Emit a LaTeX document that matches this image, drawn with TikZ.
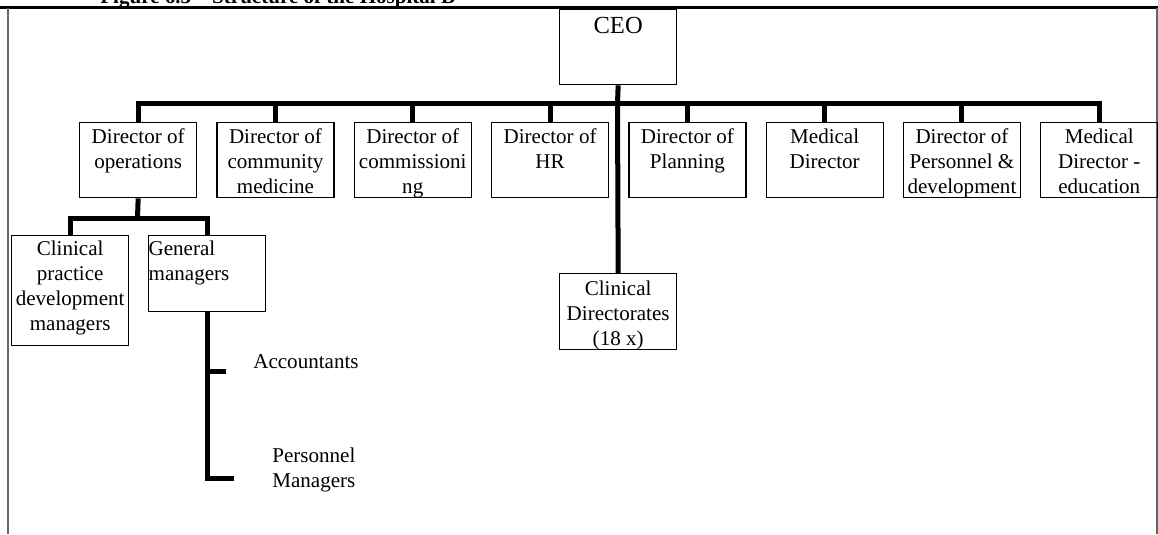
\documentclass[tikz,border=0pt]{standalone}
\usepackage{fontspec}
\setmainfont{Liberation Serif}
\usepackage{tikz}

\newcommand{\boxtext}[3][12pt]{\parbox[t][#2][t]{66.7pt}{\centering\rule{0pt}{#1}#3}}
\tikzset{
  post/.style={draw, line width=0.75pt, inner sep=0pt, anchor=north west},
  bar/.style={line width=2.85pt},
  plain/.style={inner sep=0pt, align=left}
}

\begin{document}
\begin{tikzpicture}[x=0.57pt, y=-0.57pt, font=\fontsize{12}{14.2}\selectfont]
\useasboundingbox (0,0) rectangle (1158,534);
\begin{scope}
\clip (0,0) rectangle (1158,534);
\node[anchor=base west, inner sep=0pt, font=\fontsize{12}{14.2}\selectfont\bfseries] (title) at (100,3.3) {Figure 6.3 -- Structure of the Hospital B};
\end{scope}
\draw[line width=1.4pt] (0,7.5) -- (1158,7.5);
\draw[black!60, line width=0.6pt] (8,7.5) -- (8,534);
\draw[black!60, line width=0.6pt] (1157,7.5) -- (1157,534);
%
\node[post] (ceo) at (559,9) {\boxtext[13.7pt]{42.75pt}{\fontsize{14}{16}\selectfont CEO}};
\coordinate (bus) at (617.5,103);
\draw[bar] (ceo.south) -- (bus);
%
\node[post] (ops) at (79,122) {\boxtext{42.75pt}{Director of\\operations}};
\node[post] (comm) at (216.3,122) {\boxtext{42.75pt}{Director of\\community\\medicine}};
\node[post] (commis) at (353.6,122) {\boxtext{42.75pt}{Director of\\commissioni\\ng}};
\node[post] (hr) at (490.9,122) {\boxtext{42.75pt}{Director of\\HR}};
\node[post] (plan) at (628.2,122) {\boxtext{42.75pt}{Director of\\Planning}};
\node[post] (med) at (765.5,122) {\boxtext{42.75pt}{Medical\\Director}};
\node[post] (pers) at (902.8,122) {\boxtext{42.75pt}{Director of\\Personnel \&\\development}};
\node[post] (edu) at (1040.1,122) {\boxtext{42.75pt}{Medical\\Director -\\education}};
\draw[bar] (bus) -| (ops.north);
\draw[bar] (bus) -| (comm.north);
\draw[bar] (bus) -| (commis.north);
\draw[bar] (bus) -| (hr.north);
\draw[bar] (bus) -| (plan.north);
\draw[bar] (bus) -| (med.north);
\draw[bar] (bus) -| (pers.north);
\draw[bar] (bus) -| (edu.north);
%
\node[post] (cdir) at (559,273) {\boxtext[12.5pt]{43.3pt}{Clinical\\Directorates\\(18 x)}};
\draw[bar] (bus) -- (cdir.north);
%
\node[post] (cpdm) at (11,235) {\boxtext[11.4pt]{62.7pt}{Clinical\\practice\\development\\managers}};
\node[post] (gm) at (148,235) {\boxtext[11.4pt]{43.3pt}{\raggedright General\\managers}};
\coordinate (opsbus) at (137.5,218);
\draw[bar] (ops.south) -- (opsbus);
\draw[bar] (opsbus) -| (cpdm.north);
\draw[bar] (opsbus) -| (gm.north);
%
\node[plain, anchor=base west] (acc) at (253,368) {Accountants};
\node[plain, anchor=north west] (pm) at (272,448) {Personnel\\Managers};
\coordinate (acctip) at (226,371);
\coordinate (pmtip) at (234,478);
\draw[bar] (gm.south) |- (pmtip);
\draw[bar] (gm.south |- acctip) -- (acctip);
\end{tikzpicture}
\end{document}
